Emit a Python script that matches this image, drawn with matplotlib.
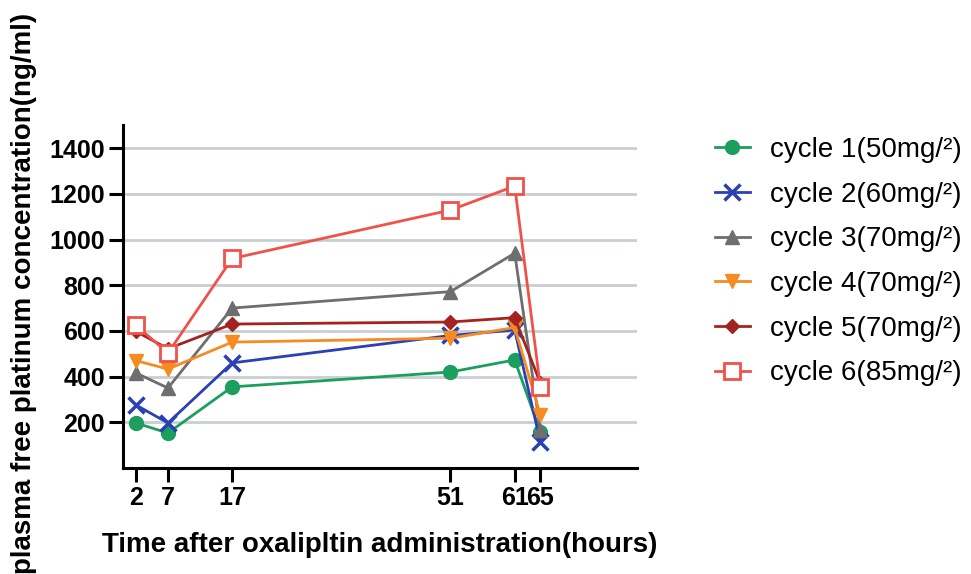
import matplotlib
matplotlib.use("Agg")
import matplotlib.pyplot as plt
import numpy as np

plt.rcParams['font.family'] = ['Liberation Sans', 'DejaVu Sans']

hours = [2, 7, 17, 51, 61, 65]
tick_labels = ['2', '7', '17', '51', '61', '65']
y_ticks = [200, 400, 600, 800, 1000, 1200, 1400]

labels = ['cycle 1(50mg/²)', 'cycle 2(60mg/²)', 'cycle 3(70mg/²)',
          'cycle 4(70mg/²)', 'cycle 5(70mg/²)', 'cycle 6(85mg/²)']
cycle1 = [197, 153, 355, 420, 473, 158]
cycle2 = [276, 197, 460, 580, 604, 114]
cycle3 = [416, 350, 700, 772, 940, 165]
cycle4 = [470, 433, 551, 568, 615, 232]
cycle5 = [598, 522, 630, 639, 658, 372]
cycle6 = [625, 503, 917, 1129, 1234, 355]
series = [cycle1, cycle2, cycle3, cycle4, cycle5, cycle6]

colors = ['#1b9e5e', '#2a40b4', '#6e6e6e', '#f58b22', '#a3241f', '#f0524a']
markers = ['o', 'x', '^', 'v', 'D', 's']

fig = plt.figure(figsize=(9.71, 5.74), dpi=100)
ax = fig.add_axes([0.1267, 0.1847, 0.529, 0.597])

for vals, lab, c, m in zip(series, labels, colors, markers):
    kw = dict(color=c, marker=m, linewidth=2, label=lab)
    if m == 's':
        kw.update(markerfacecolor='white', markeredgecolor=c, markersize=11, markeredgewidth=2)
    elif m == 'x':
        kw.update(markersize=11, markeredgewidth=2.5)
    elif m == 'D':
        kw.update(markersize=7)
    else:
        kw.update(markersize=10)
    ax.plot(hours, vals, **kw)

ax.set_xlim(0, 80)
ax.set_ylim(0, 1500)
ax.set_xticks(hours)
ax.set_xticklabels(tick_labels)
ax.set_yticks(y_ticks)
ax.yaxis.grid(True, color='#c9ced1', linewidth=2)
ax.set_axisbelow(True)
for s in ['top', 'right']:
    ax.spines[s].set_visible(False)
for s in ['left', 'bottom']:
    ax.spines[s].set_linewidth(2.2)
ax.tick_params(length=10, width=2.2, labelsize=18, pad=3)
for t in ax.get_xticklabels() + ax.get_yticklabels():
    t.set_fontweight('bold')

ax.set_xlabel('Time after oxalipltin administration(hours)', fontsize=20,
              fontweight='bold', labelpad=16)
fig.text(31 / 971, 0.488, 'plasma free platinum concentration(ng/ml)', fontsize=20,
         fontweight='bold', rotation=90, rotation_mode='anchor',
         ha='center', va='baseline')

ax.legend(loc='upper left', bbox_to_anchor=(0.736, 0.761), bbox_transform=fig.transFigure,
          frameon=False, fontsize=20, labelspacing=0.67, handlelength=1.26,
          handletextpad=0.72, borderpad=0, borderaxespad=0)

fig.savefig('out.png', dpi=100)
